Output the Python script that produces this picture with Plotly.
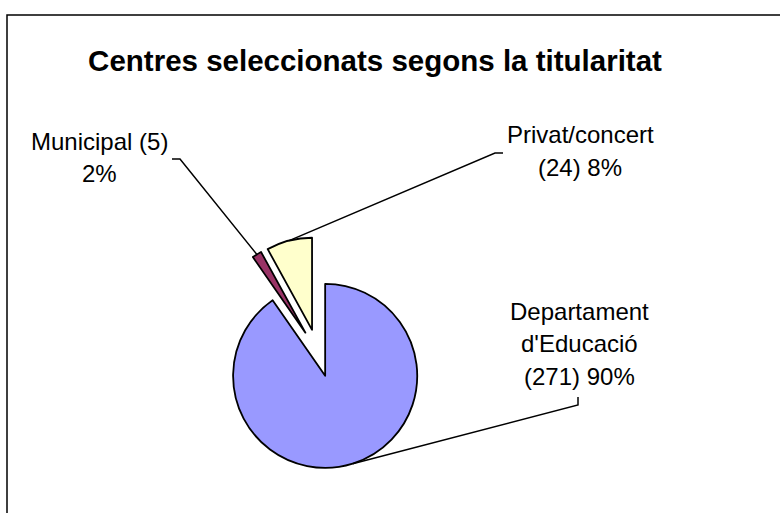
import math
import plotly.graph_objects as go

# data
names = ["Departament<br>d'Educació", "Municipal", "Privat/concert"]
counts = [271, 5, 24]
colors = ["#9999FF", "#993366", "#FFFFCC"]
# how the label lines are joined: name, count, percent
name_sep = ["<br>", " ", "<br>"]
count_sep = [" ", "<br>", " "]

W, H = 780, 513
PULL = 0.26

# pie box in pixels (square), converted to paper domain
pie_cx, pie_cy, pie_half = 318, 353, 116
dom_x = [(pie_cx - pie_half) / W, (pie_cx + pie_half) / W]
dom_y = [1 - (pie_cy + pie_half) / H, 1 - (pie_cy - pie_half) / H]

total = sum(counts)
pcts = [f"{round(100 * c / total)}%" for c in counts]
label_text = [
    f"{n}{s1}({c}){s2}{p}"
    for n, s1, c, s2, p in zip(names, name_sep, counts, count_sep, pcts)
]

fig = go.Figure(
    go.Pie(
        values=counts,
        labels=[n.replace("<br>", " ") for n in names],
        sort=False,
        direction="clockwise",
        rotation=0,
        pull=[PULL] * len(counts),
        marker=dict(colors=colors, line=dict(color="black", width=1.8)),
        textinfo="none",
        hoverinfo="label+value+percent",
        domain=dict(x=dom_x, y=dom_y),
        showlegend=False,
    )
)

# where each slice's leader line touches it (outer edge, mid angle)
radius = pie_half / (1 + PULL)
tips = []
acc = 0
for c in counts:
    mid = 2 * math.pi * (acc + c / 2) / total
    acc += c
    dist = radius * (1 + PULL)
    tips.append((pie_cx + dist * math.sin(mid), pie_cy - dist * math.cos(mid)))

# label centre x / first-line y, and leader-line elbows (pixels)
label_pos = [(579, 311), (99, 141), (580, 135)]
LINE_GAP = 32.5
elbows = [((578, 397), (578, 405)), ((172, 159), (180, 159)), ((503, 153), (495, 153))]


def px(x, y):
    return x / W, 1 - y / H


shapes = [
    dict(type="rect", xref="paper", yref="paper",
         x0=7 / W, y0=-0.02, x1=1.02, y1=1 - 15 / H,
         line=dict(color="black", width=1.5), layer="below")
]
annotations = []
for (tx, ty), (e0, e1), (lx, ly), txt in zip(tips, elbows, label_pos, label_text):
    a, b, t = px(*e0), px(*e1), px(tx, ty)
    shapes.append(dict(
        type="path", xref="paper", yref="paper",
        path=f"M {a[0]} {a[1]} L {b[0]} {b[1]} L {t[0]} {t[1]}",
        line=dict(color="black", width=1.5),
    ))
    for i, line in enumerate(txt.split("<br>")):
        x, y = px(lx, ly + i * LINE_GAP)
        annotations.append(dict(
            x=x, y=y, xref="paper", yref="paper", text=line, showarrow=False,
            xanchor="center", yanchor="middle", align="center",
            font=dict(family="Liberation Sans, Arial", size=24, color="black"),
        ))

fig.update_layout(
    width=W,
    height=H,
    margin=dict(l=0, r=0, t=0, b=0),
    paper_bgcolor="white",
    plot_bgcolor="white",
    title=dict(
        text="<b>Centres seleccionats segons la titularitat</b>",
        x=375 / W, xanchor="center",
        y=1 - 61 / H, yanchor="middle",
        font=dict(family="Liberation Sans, Arial", size=29.5, color="black"),
    ),
    shapes=shapes,
    annotations=annotations,
)

# page has a default body margin; drop it so the figure sits at (0, 0)
fig.write_html(
    "out.html",
    config={"displayModeBar": False},
    post_script="document.body.style.margin='0';",
)
